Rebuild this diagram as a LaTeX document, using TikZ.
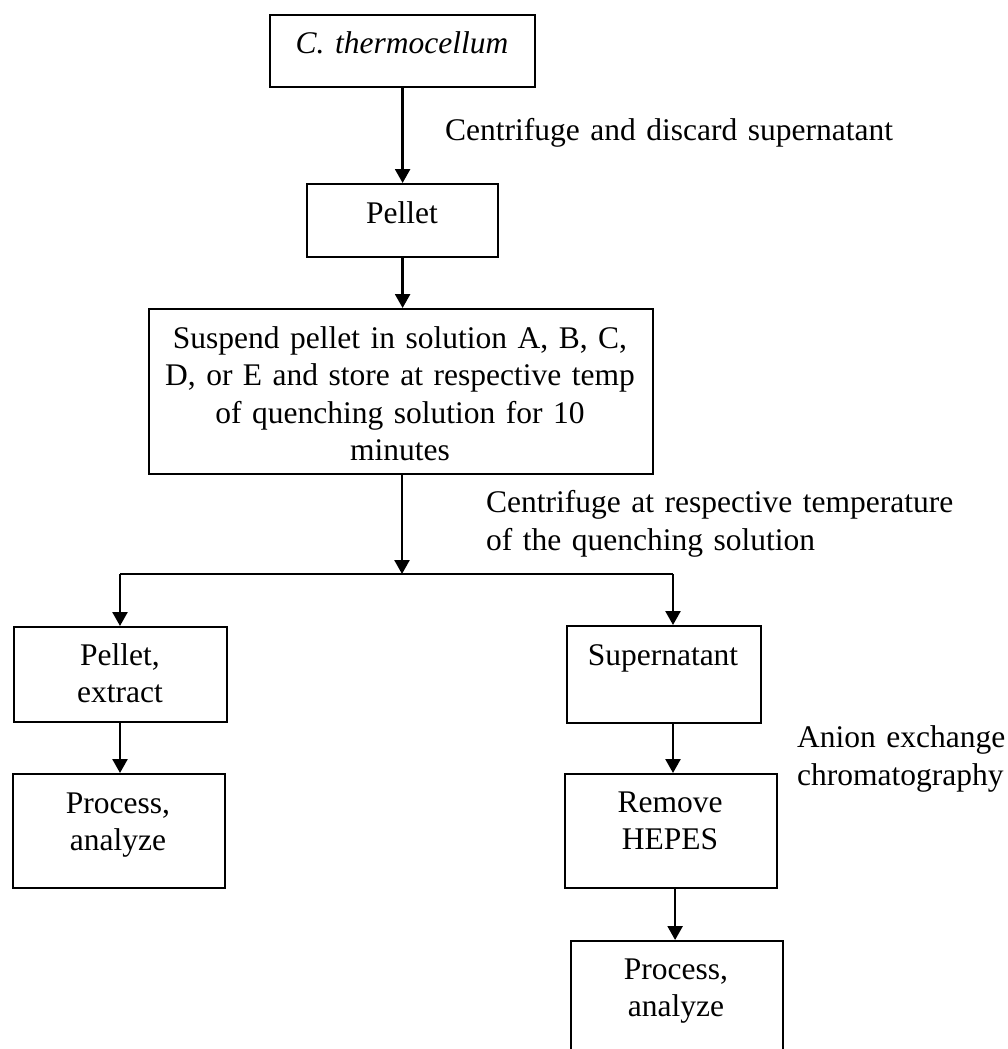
\documentclass[tikz,border=0pt]{standalone}
\usepackage{fontspec}
\setmainfont{Liberation Serif}
\usetikzlibrary{arrows.meta,calc}
\tikzset{
  box/.style={draw, line width=2.2pt, inner sep=0pt, anchor=north west},
  txt/.style={font=\fontsize{31.5}{37.5}\selectfont, inner sep=0pt, align=center, anchor=base},
  ltxt/.style={font=\fontsize{31.5}{38}\selectfont, inner sep=0pt, align=left, anchor=base west},
  arr/.style={line width=2.5pt, -{Triangle[length=14pt,width=15pt]}},
  ln/.style={line width=2.5pt},
}
\begin{document}
\begin{tikzpicture}[x=1pt,y=-1pt]
\clip (0,0) rectangle (1008,1049);
\fill[white] (0,0) rectangle (1008,1049);
% boxes
\node[box, minimum width=265pt, minimum height=72pt] (b1) at (269,14) {};
\node[box, minimum width=191pt, minimum height=73pt] (b2) at (306,183) {};
\node[box, minimum width=504pt, minimum height=165pt] (b3) at (148,308) {};
\node[box, minimum width=213pt, minimum height=95pt] (b4) at (13,626) {};
\node[box, minimum width=212pt, minimum height=114pt] (b5) at (12,773) {};
\node[box, minimum width=194pt, minimum height=97pt] (b6) at (566,625) {};
\node[box, minimum width=212pt, minimum height=114pt] (b7) at (564,773) {};
\node[box, minimum width=212pt, minimum height=140pt] (b8) at (570,940) {};
% box texts
\node[txt, text width=265pt] (t1) at (402,53) {\itshape C. thermocellum};
\node[txt, text width=191pt] (t2) at (402,223) {Pellet};
\node[txt, text width=504pt] (t3) at (400,348) {Suspend pellet in solution A, B, C,\\ D, or E and store at respective temp\\ of quenching solution for 10\\ minutes};
\node[txt, text width=213pt] (t4) at (120,665) {Pellet,\\ extract};
\node[txt, text width=212pt] (t5) at (118,813) {Process,\\ analyze};
\node[txt, text width=194pt] (t6) at (663,665) {Supernatant};
\node[txt, text width=212pt] (t7) at (670,812) {Remove\\ HEPES};
\node[txt, text width=212pt] (t8) at (676,979) {Process,\\ analyze};
% side labels
\node[ltxt, text width=540pt] (l1) at (445,140) {Centrifuge and discard supernatant};
\node[ltxt, text width=500pt] (l2) at (486,512) {Centrifuge at respective temperature\\ of the quenching solution};
\node[ltxt, text width=220pt] (l3) at (797,747) {Anion exchange\\ chromatography};
% connectors
\coordinate (j) at (402,574);
\coordinate (jl) at (120,574);
\coordinate (jr) at (673,574);
\draw[arr] (b1.south) -- (b1.south |- b2.north);
\draw[arr] (b2.south) -- (b2.south |- b3.north);
\draw[arr] (b3.south -| j) -- (j);
\draw[ln] (jl) -- (jr);
\draw[arr] (jl) -- (jl |- b4.north);
\draw[arr] (jr) -- (jr |- b6.north);
\draw[arr] (b4.south -| jl) -- (jl |- b5.north);
\draw[arr] (b6.south -| jr) -- (jr |- b7.north);
\draw[arr] ([xshift=4pt]b7.south) -- ([xshift=4pt]b7.south |- b8.north);
\end{tikzpicture}
\end{document}
